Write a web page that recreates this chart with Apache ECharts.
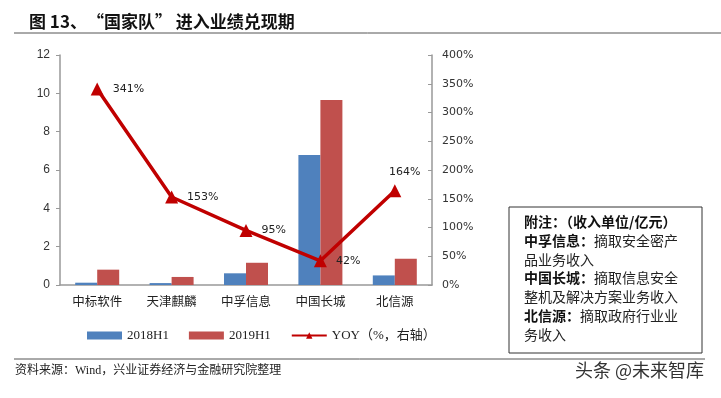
<!DOCTYPE html>
<html>
<head>
<meta charset="utf-8">
<script src="https://cdn.jsdelivr.net/npm/echarts@6/dist/echarts.min.js"></script>
<style>
  html, body { margin: 0; padding: 0; background: #fff; }
  #main { width: 721px; height: 398px; }
</style>
</head>
<body>
<div id="main"></div>
<script>
// 数据
var categories = ['中标软件', '天津麒麟', '中孚信息', '中国长城', '北信源'];
var rev2018 = [0.12, 0.1, 0.61, 6.78, 0.5];
var rev2019 = [0.8, 0.42, 1.16, 9.65, 1.37];
var yoy = [341, 153, 95, 42, 164];
var noteLines = [
    ['附注：（收入单位/亿元）', ''],
    ['中孚信息：', '摘取安全密产'],
    ['', '品业务收入'],
    ['中国长城：', '摘取信息安全'],
    ['', '整机及解决方案业务收入'],
    ['北信源：', '摘取政府行业业'],
    ['', '务收入']
];

var cjk = '"Noto Sans CJK SC", sans-serif';
var myChart = echarts.init(document.getElementById('main'));

// 折线标签位置
var labelPos = ['right', 'right', 'right', 'right', 'top'];
var lineData = [];
for (var i = 0; i < yoy.length; i++) {
    lineData.push({
        value: yoy[i],
        label: { position: labelPos[i], offset: i == 4 ? [10, -2] : [4, 0] }
    });
}

// 附注文字
var noteGraphics = [];
for (var j = 0; j < noteLines.length; j++) {
    noteGraphics.push({
        type: 'text', left: 524, top: 215 + j * 18.7,
        style: {
            rich: {
                b: { fontFamily: cjk, fontWeight: 'bold', fontSize: 14, fill: '#111' },
                n: { fontFamily: cjk, fontSize: 14, fill: '#222' }
            },
            text: (noteLines[j][0] ? '{b|' + noteLines[j][0] + '}' : '') + (noteLines[j][1] ? '{n|' + noteLines[j][1] + '}' : '')
        }
    });
}

option = {
    backgroundColor: '#fff',
    animation: false,
    title: {
        text: '图 13、“国家队” 进入业绩兑现期',
        left: 24, top: 8,
        textStyle: { fontFamily: cjk, fontSize: 17, fontWeight: 'bold', color: '#111' }
    },
    legend: {
        left: 82, top: 324,
        itemGap: 20, itemWidth: 35, itemHeight: 8,
        textStyle: { fontFamily: '"Liberation Serif", ' + cjk, fontSize: 13, color: '#222' },
        data: [
            { name: '2018H1', icon: 'rect' },
            { name: '2019H1', icon: 'rect' },
            { name: 'YOY（%，右轴）' }
        ]
    },
    grid: { left: 60, right: 289, top: 55, bottom: 113 },
    xAxis: {
        type: 'category',
        data: categories,
        axisLine: { lineStyle: { color: '#999', width: 1.5 } },
        axisTick: { show: false },
        axisLabel: { fontFamily: cjk, fontSize: 12.5, color: '#222', margin: 10 }
    },
    yAxis: [
        {
            type: 'value', min: 0, max: 12, interval: 2,
            axisLine: { show: true, lineStyle: { color: '#999', width: 1.5 } },
            axisTick: { show: true, inside: false, length: 4, lineStyle: { color: '#999' } },
            splitLine: { show: false },
            axisLabel: { fontFamily: '"Liberation Sans", sans-serif', fontSize: 12, color: '#333', margin: 10 }
        },
        {
            type: 'value', min: 0, max: 400, interval: 50,
            axisLine: { show: true, lineStyle: { color: '#999', width: 1.5 } },
            axisTick: { show: true, inside: true, length: 4, lineStyle: { color: '#999' } },
            splitLine: { show: false },
            axisLabel: { formatter: '{value}%', fontFamily: '"DejaVu Sans", sans-serif', fontSize: 11, color: '#333', margin: 10 }
        }
    ],
    series: [
        {
            name: '2018H1', type: 'bar', data: rev2018,
            barWidth: 22, barGap: '0%',
            itemStyle: { color: '#4F81BD' }
        },
        {
            name: '2019H1', type: 'bar', data: rev2019,
            barWidth: 22,
            itemStyle: { color: '#C0504D' }
        },
        {
            name: 'YOY（%，右轴）', type: 'line', yAxisIndex: 1, data: lineData,
            symbol: 'triangle', symbolSize: 13,
            lineStyle: { color: '#C00000', width: 3.5 },
            itemStyle: { color: '#C00000' },
            label: {
                show: true, formatter: '{c}%',
                fontFamily: '"DejaVu Sans", sans-serif', fontSize: 11, color: '#222'
            },
            z: 5
        }
    ],
    graphic: [
        { type: 'line', shape: { x1: 14, y1: 33, x2: 721, y2: 33 }, style: { stroke: '#555', lineWidth: 1 } },
        { type: 'line', shape: { x1: 14, y1: 359, x2: 705, y2: 359 }, style: { stroke: '#555', lineWidth: 1 } },
        { type: 'rect', shape: { x: 509, y: 207, width: 193, height: 146 }, style: { fill: 'none', stroke: '#333', lineWidth: 1 } },
        {
            type: 'text', left: 15, top: 365,
            style: { text: '资料来源：Wind，兴业证券经济与金融研究院整理', fontFamily: '"Liberation Serif", ' + cjk, fontSize: 12, fill: '#222' }
        },
        {
            type: 'text', left: 575, top: 361,
            style: { text: '头条 @未来智库', fontFamily: cjk, fontSize: 18, fill: '#333' }
        }
    ].concat(noteGraphics)
};
myChart.setOption(option);
</script>
</body>
</html>
